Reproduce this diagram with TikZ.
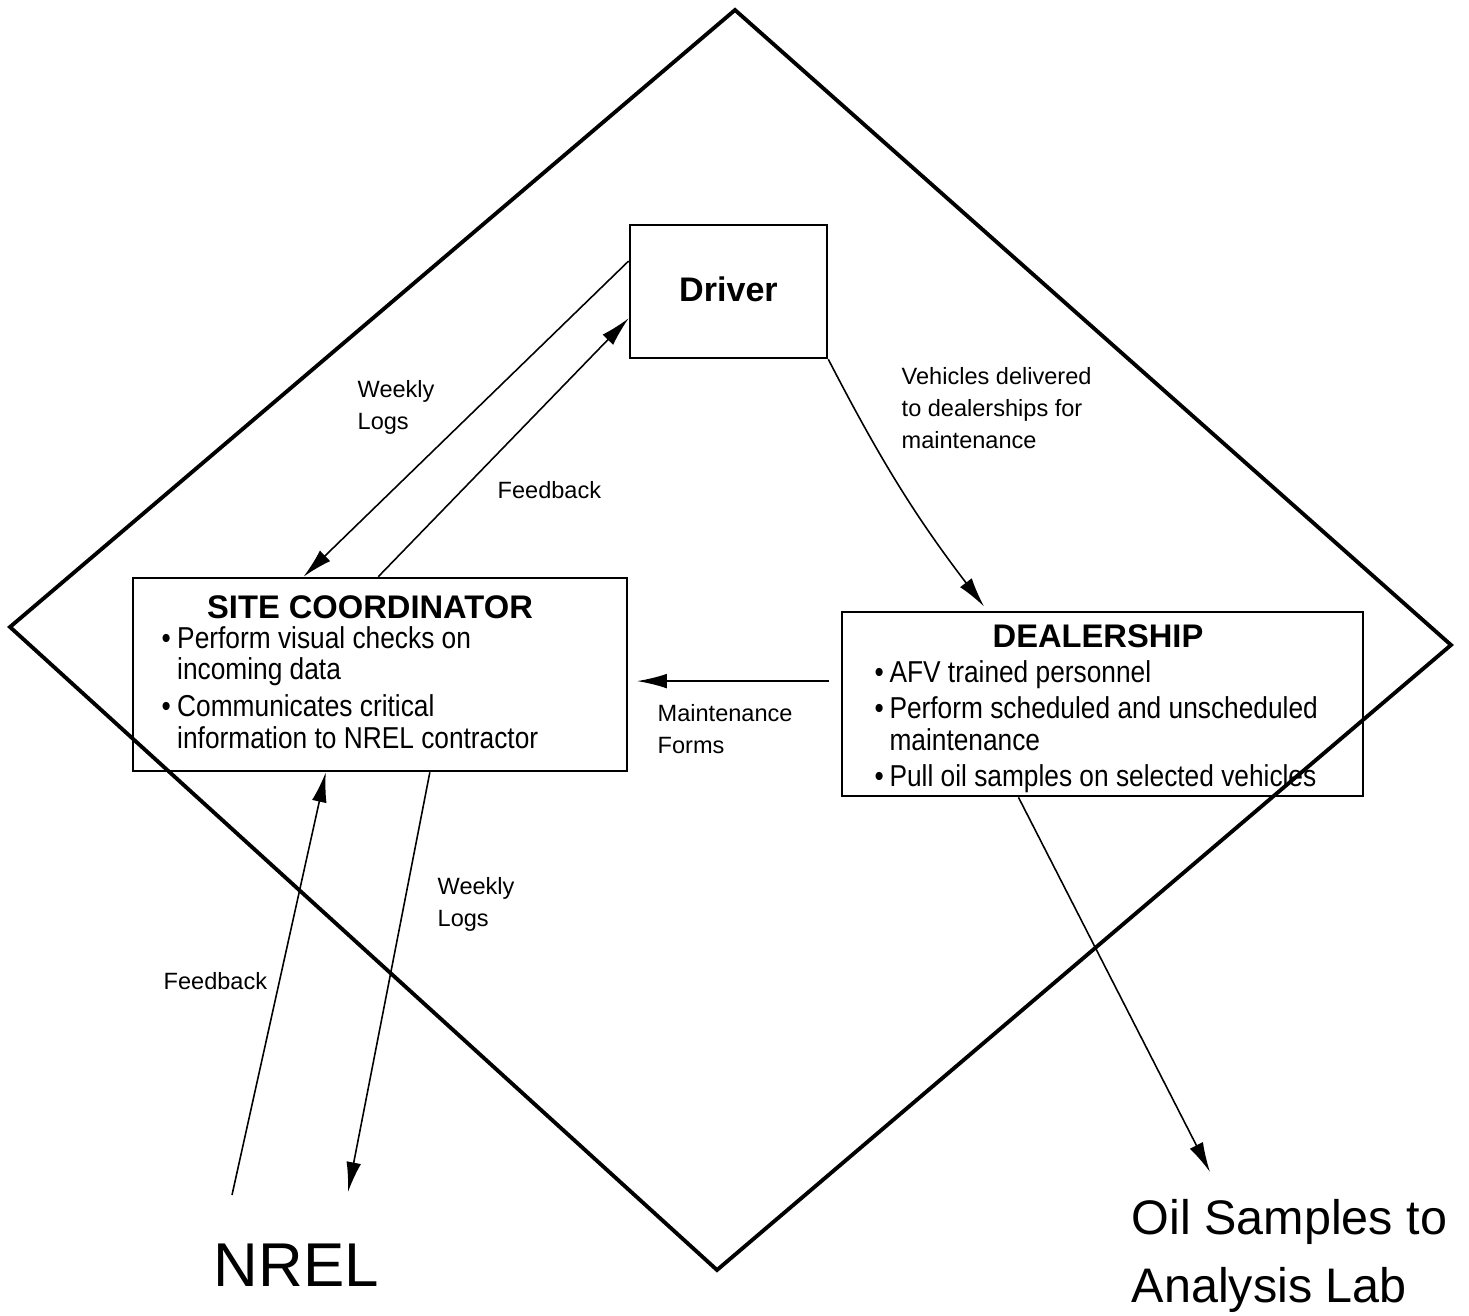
\documentclass[tikz,border=0pt]{standalone}
\usepackage{fontspec}
\setmainfont{Liberation Sans}
\newfontfamily\narrowfont[FakeStretch=0.87]{Liberation Sans}
\usetikzlibrary{arrows.meta}

\begin{document}
\begin{tikzpicture}[
  box/.style={draw, line width=0.75pt, inner sep=0pt},
  flow/.style={line width=0.45pt, -{Latex[length=8.5pt,width=4.2pt]}},
  lbl/.style={font=\fontsize{6.7}{9.1}\selectfont, align=left, anchor=west, inner sep=0pt},
  head/.style={font=\fontsize{9.3}{11}\selectfont\bfseries, anchor=base, inner sep=0pt},
  body/.style={font=\fontsize{8.6}{9}\selectfont\narrowfont, anchor=base west, inner sep=0pt}
]
\useasboundingbox (0,0) rectangle (14.69,13.15);
\draw[line width=1.1pt] (7.35,13.05) -- (14.51,6.70) -- (7.17,0.45) -- (0.10,6.88) -- cycle;

\node[box, minimum width=1.97cm, minimum height=1.33cm, font=\fontsize{9.7}{11}\selectfont\bfseries] (driver) at (7.285,10.235) {\raisebox{1.3pt}{Driver}};
\node[box, minimum width=4.94cm, minimum height=1.93cm] (site) at (3.80,6.405) {};
\node[box, minimum width=5.21cm, minimum height=1.84cm] (dealer) at (11.025,6.11) {};

\node[head] (sitehead) at (3.70,6.97) {SITE COORDINATOR};
\node[body] (sitebody) at (1.61,6.67) {\begin{tabular}[t]{@{}l@{\hspace{1.8pt}}l@{}}
  \textbullet & Perform visual checks on\\
              & incoming data\\[1.5pt]
  \textbullet & Communicates critical\\
              & information to NREL contractor
\end{tabular}};
\node[head] (dealerhead) at (10.98,6.68) {DEALERSHIP};
\node[body] (dealerbody) at (8.74,6.33) {\begin{tabular}[t]{@{}l@{\hspace{1.6pt}}l@{}}
  \textbullet & AFV trained personnel\\[1.5pt]
  \textbullet & Perform scheduled and unscheduled\\
              & maintenance\\[1.2pt]
  \textbullet & Pull oil samples on selected vehicles
\end{tabular}};

\coordinate (nrelfb) at (2.32,1.20);
\coordinate (nrelwl) at (3.48,1.23);
\coordinate (oillab) at (12.10,1.43);

\draw[flow] (driver.163) -- (site.128);
\draw[flow] (site.91) -- (driver.195);
\draw[flow, shorten >=1.5pt] (driver.south east) to[bend right=5] (dealer.141.5);
\draw[flow, shorten <=3.4pt, shorten >=2.5pt] (dealer.175) -- (dealer.175 -| site.east);
\draw[flow] (nrelfb) -- (site.241);
\draw[flow] (site.297) -- (nrelwl);
\draw[flow] (dealer.228) -- (oillab);

\node[lbl] (wlup) at (3.57,9.08) {Weekly\\Logs};
\node[lbl] (fbup) at (4.97,8.25) {Feedback};
\node[lbl] (veh) at (9.01,9.07) {Vehicles delivered\\to dealerships for\\maintenance};
\node[lbl] (forms) at (6.57,5.86) {Maintenance\\Forms};
\node[lbl] (wllow) at (4.37,4.11) {Weekly\\Logs};
\node[lbl] (fblow) at (1.63,3.34) {Feedback};
\node[anchor=west, inner sep=0pt, font=\fontsize{17.6}{20}\selectfont] (nrel) at (2.13,0.50) {NREL};
\node[anchor=west, inner sep=0pt, align=left, font=\fontsize{13.8}{19.3}\selectfont] (oil) at (11.31,0.59) {Oil Samples to\\Analysis Lab};
\end{tikzpicture}
\end{document}
